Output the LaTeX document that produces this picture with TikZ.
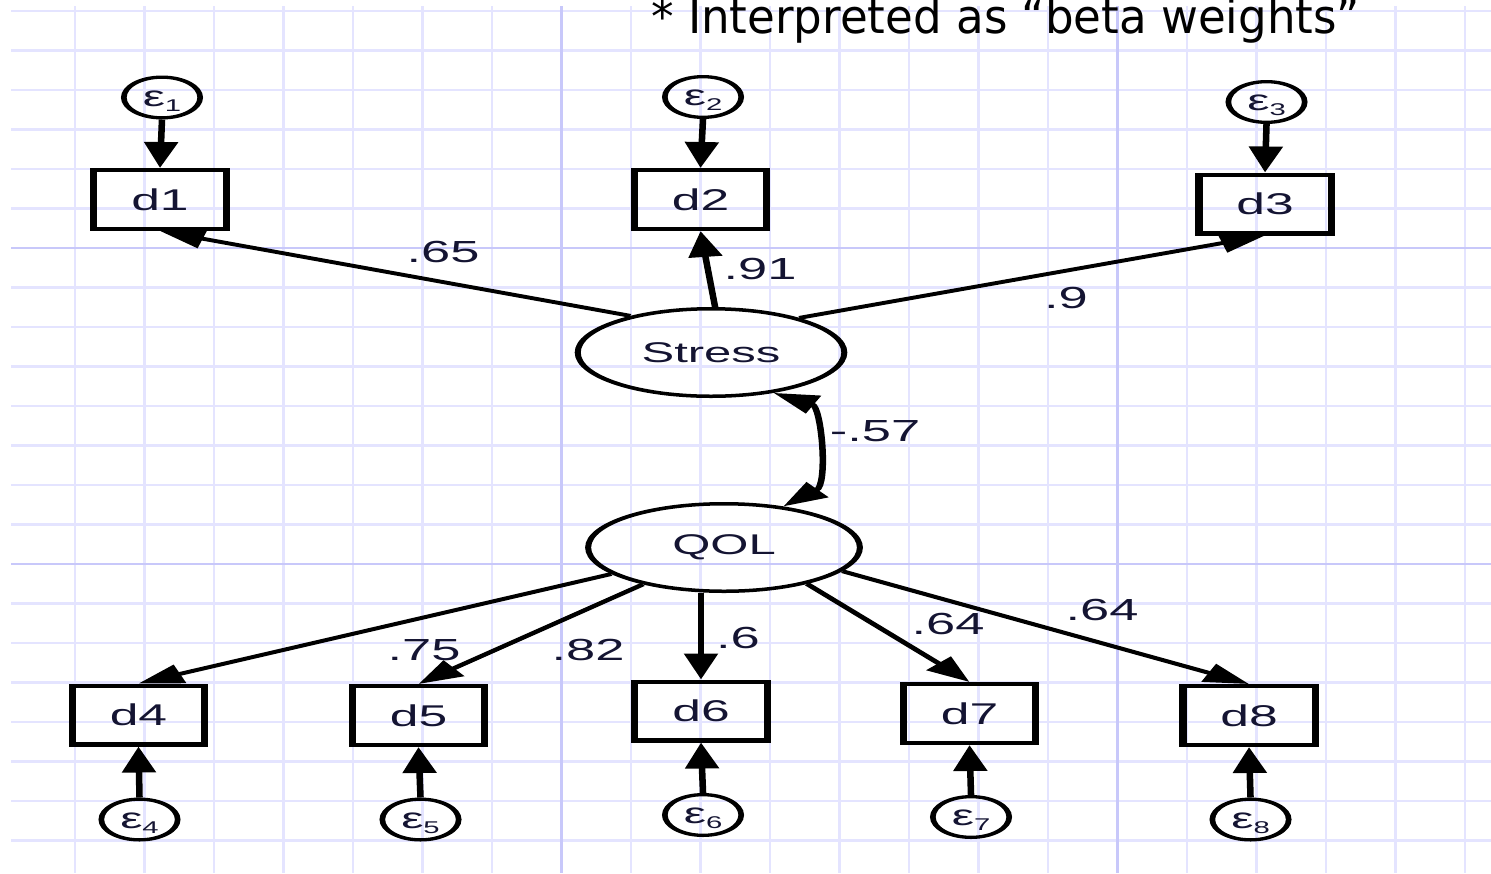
\documentclass[tikz,border=0pt]{standalone}
\usepackage{fontspec}
\usetikzlibrary{arrows.meta,shapes.geometric}
\newfontfamily\diagfont{Liberation Sans}
\newfontfamily\notefont[FakeStretch=0.96]{DejaVu Sans}
\definecolor{gridminor}{RGB}{228,228,255}
\definecolor{gridmajor}{RGB}{200,200,250}
\definecolor{ink}{RGB}{20,20,50}
\newcommand\errlab[1]{ε\raisebox{-5pt}{\fontsize{17}{17}\selectfont #1}}

\tikzset{
  obsbox/.style={draw, line width=4.3pt, minimum width=77pt, minimum height=58.7pt,
    inner sep=0pt, font=\diagfont\fontsize{30}{36}\selectfont, text=ink},
  latent/.style={ellipse, draw, line width=3.5pt, minimum height=87.5pt,
    inner sep=0pt, font=\diagfont\fontsize{28.5}{34}\selectfont, text=ink},
  errnode/.style={ellipse, draw, line width=3.3pt, minimum width=44.4pt, minimum height=40.7pt,
    inner sep=0pt, text height=22pt, text depth=5pt,
    font=\diagfont\fontsize{29}{30}\selectfont, text=ink},
  loading/.style={line width=3.8pt, -{Triangle[length=26pt,width=19pt]}},
  cov/.style={line width=3.8pt, {Triangle[length=26pt,width=19pt]}-{Triangle[length=26pt,width=19pt]}},
  coef/.style={inner sep=0pt, font=\diagfont\fontsize{30.5}{36}\selectfont, text=ink},
}

\begin{document}
\begin{tikzpicture}[x=1pt,y=-1pt]
\useasboundingbox (0,0) rectangle (1491,873);
\clip (0,0) rectangle (1491,873);

% graph-paper background
\foreach \k in {0,...,20}
  \draw[gridminor, line width=2.2pt] ({75+69.5*\k},6) -- ({75+69.5*\k},873);
\foreach \j in {0,...,21}
  \draw[gridminor, line width=2.2pt] (11,{11+39.5*\j}) -- (1491,{11+39.5*\j});
\foreach \gx in {561.5,1117.5}
  \draw[gridmajor, line width=2.6pt] (\gx,6) -- (\gx,873);
\foreach \gy in {248,564}
  \draw[gridmajor, line width=2.6pt] (11,\gy) -- (1491,\gy);

% note
\node[anchor=base west, inner sep=0pt, font=\notefont\fontsize{47}{56}\selectfont]
  (note) at (651,33) {* Interpreted as “beta weights”};

% path diagram, drawn wide
\begin{scope}[x=0.5814pt, y=-1pt, transform canvas={xscale=1.72}]
  % latent variables
  \node[latent, minimum width=155pt] (Stress) at (711,352.5) {Stress};
  \node[latent, minimum width=158pt] (QOL) at (724,547.5) {QOL};

  % indicators
  \node[obsbox] (d1) at (160,199.5) {d1};
  \node[obsbox] (d2) at (700.5,199.5) {d2};
  \node[obsbox] (d3) at (1265,204) {d3};
  \node[obsbox] (d4) at (138.5,715) {d4};
  \node[obsbox] (d5) at (418.5,715.5) {d5};
  \node[obsbox] (d6) at (701,711) {d6};
  \node[obsbox] (d7) at (969.5,713.5) {d7};
  \node[obsbox] (d8) at (1249,715.5) {d8};

  % error terms
  \node[errnode] (e1) at (162,97.5) {\errlab{1}};
  \node[errnode] (e2) at (703,97) {\errlab{2}};
  \node[errnode] (e3) at (1266.5,102) {\errlab{3}};
  \node[errnode] (e4) at (139.5,819.5) {\errlab{4}};
  \node[errnode] (e5) at (420.5,819.5) {\errlab{5}};
  \node[errnode] (e6) at (703,815) {\errlab{6}};
  \node[errnode] (e7) at (971,817) {\errlab{7}};
  \node[errnode] (e8) at (1250.5,819.5) {\errlab{8}};

  % error paths
  \draw[loading] (e1.south) -- (d1.north);
  \draw[loading] (e2.south) -- (d2.north);
  \draw[loading] (e3.south) -- (d3.north);
  \draw[loading] (e4.north) -- (d4.south);
  \draw[loading] (e5.north) -- (d5.south);
  \draw[loading] (e6.north) -- (d6.south);
  \draw[loading] (e7.north) -- (d7.south);
  \draw[loading] (e8.north) -- (d8.south);

  % loadings
  \draw[loading] (Stress.142) -- (d1.south);
  \draw[loading] (Stress.87) -- (d2.south);
  \draw[loading] (Stress.34) -- (d3.south);
  \draw[loading] (QOL.-158) -- (d4.north);
  \draw[loading] (QOL.-142) -- (d5.north);
  \draw[loading] (d6.north |- QOL.south) -- (d6.north);
  \draw[loading] (QOL.-37) -- (d7.north);
  \draw[loading] (QOL.-19) -- (d8.north);

  % covariance
  \draw[cov] (Stress.-48) .. controls +(48,14) and +(45,-22) .. (QOL.50);

  % coefficients
  \node[coef] (c1) at (443,252) {.65};
  \node[coef] (c2) at (760,269) {.91};
  \node[coef] (c3) at (1066,298) {.9};
  \node[coef] (c4) at (875,431) {-.57};
  \node[coef] (c5) at (424,650) {.75};
  \node[coef] (c6) at (588,650) {.82};
  \node[coef] (c7) at (738,638) {.6};
  \node[coef] (c8) at (948,624) {.64};
  \node[coef] (c9) at (1102,610) {.64};
\end{scope}
\end{tikzpicture}
\end{document}
